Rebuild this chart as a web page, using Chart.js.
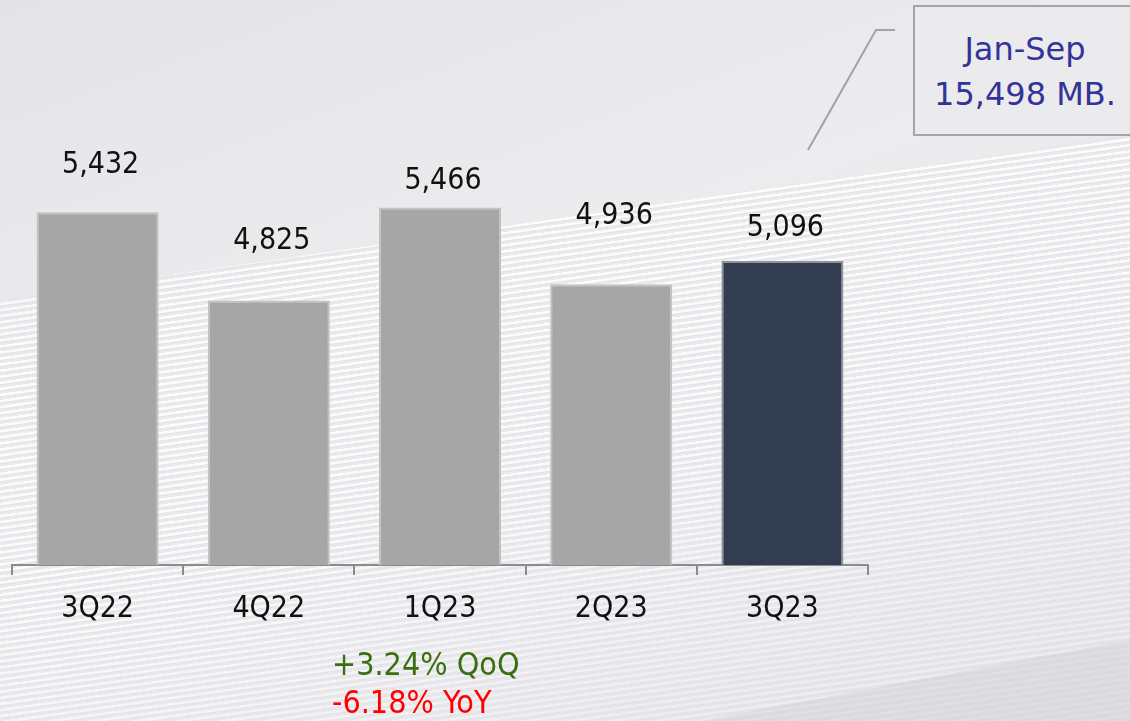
<!DOCTYPE html>
<html>
<head>
<meta charset="utf-8">
<script src="https://cdn.jsdelivr.net/npm/chart.js@4.4.0/dist/chart.umd.min.js"></script>
<style>
  html, body { margin: 0; padding: 0; }
  body { width: 1130px; height: 721px; overflow: hidden; position: relative;
    font-family: "DejaVu Sans Condensed", "Liberation Sans", sans-serif;
    background: linear-gradient(160deg, #e4e4e8 0%, #ececef 40%, #e9e9ed 70%, #e2e2e6 100%); }
  #stripes { position: absolute; left: 0; top: 0; width: 1130px; height: 721px;
    background: repeating-linear-gradient(172deg, rgba(255,255,255,0.85) 0px, rgba(255,255,255,0.85) 2px, rgba(214,214,220,0.35) 3px, rgba(255,255,255,0) 5px, rgba(255,255,255,0) 6px);
    clip-path: polygon(0 300px, 1130px 135px, 1130px 721px, 0 721px);
    -webkit-mask-image: linear-gradient(165deg, rgba(0,0,0,0) 0%, rgba(0,0,0,1) 35%, rgba(0,0,0,0.9) 60%, rgba(0,0,0,0.4) 85%);
    mask-image: linear-gradient(165deg, rgba(0,0,0,0) 0%, rgba(0,0,0,1) 35%, rgba(0,0,0,0.9) 60%, rgba(0,0,0,0.4) 85%); }
  #corner { position: absolute; left: 0; top: 0; width: 1130px; height: 721px;
    background: rgba(200,200,206,0.35);
    clip-path: polygon(700px 721px, 1130px 640px, 1130px 721px); }
  canvas { position: absolute; left: 0; top: 0; }
  .note { position: absolute; font-size: 32px; white-space: nowrap; line-height: 38px; }
  #box { position: absolute; left: 913px; top: 5px; width: 240px; height: 127px;
    border: 2px solid #a4a4a6; background: #ebebed; box-sizing: content-box; }
  .boxtxt { position: absolute; left: 915px; width: 220px; text-align: center; font-family: "DejaVu Sans", sans-serif; font-size: 32px; color: #333399; line-height: 40px; }
  svg { position: absolute; left: 0; top: 0; }
</style>
</head>
<body>
<div id="stripes"></div>
<div id="corner"></div>
<canvas id="c" width="1130" height="721"></canvas>
<svg width="1130" height="721"><polyline points="808,150 876,30 895,30" fill="none" stroke="#a2a2a4" stroke-width="2"/></svg>
<div id="box"></div>
<div class="boxtxt" id="t1" style="top:29px;"></div>
<div class="boxtxt" id="t2" style="top:74px;"></div>
<div class="note" id="qoq" style="left:332px; top:645px; color:#3b6e0e;"></div>
<div class="note" id="yoy" style="left:332px; top:683px; color:#ff0000;"></div>
<script>
const categories = ["3Q22", "4Q22", "1Q23", "2Q23", "3Q23"];
const revenue = [5432, 4825, 5466, 4936, 5096];
const highlightIndex = 4;
const boxLines = ["Jan-Sep", "15,498 MB."];
const changeNotes = ["+3.24% QoQ", "-6.18% YoY"];

document.getElementById('t1').textContent = boxLines[0];
document.getElementById('t2').textContent = boxLines[1];
document.getElementById('qoq').textContent = changeNotes[0];
document.getElementById('yoy').textContent = changeNotes[1];

const FONT = '"DejaVu Sans Condensed", "Liberation Sans", sans-serif';
const labelLift = [47, 59, 26, 68, 33];

const valueLabels = {
  id: 'valueLabels',
  afterDatasetsDraw(chart) {
    const ctx = chart.ctx;
    const meta = chart.getDatasetMeta(0);
    ctx.save();
    ctx.font = '30px ' + FONT;
    ctx.fillStyle = '#111111';
    ctx.textAlign = 'center';
    ctx.textBaseline = 'middle';
    meta.data.forEach((el, i) => {
      const v = chart.data.datasets[0].data[i];
      ctx.fillText(v.toLocaleString('en-US'), el.x + 3, el.y - labelLift[i]);
    });
    ctx.restore();
  }
};

new Chart(document.getElementById('c'), {
  type: 'bar',
  data: {
    labels: categories,
    datasets: [{
      data: revenue,
      backgroundColor: categories.map((c, i) => i === highlightIndex ? '#333d50' : '#a6a6a6'),
      borderColor: categories.map((c, i) => i === highlightIndex ? '#8e939c' : '#c2c2c2'),
      borderWidth: 2,
      borderSkipped: 'bottom',
      categoryPercentage: 1.0,
      barPercentage: 0.713
    }]
  },
  options: {
    responsive: false,
    animation: false,
    layout: { padding: { left: 12, right: 262, top: 130, bottom: 0 } },
    plugins: { legend: { display: false }, tooltip: { enabled: false } },
    scales: {
      y: { display: false, min: 3000, max: 6000 },
      x: {
        grid: { display: true, drawOnChartArea: false, drawTicks: true, tickLength: 10, color: '#8c8c8c', lineWidth: 2, offset: true },
        border: { display: true, color: '#8c8c8c', width: 2 },
        ticks: { color: '#111111', font: { size: 30, family: FONT }, padding: 16 },
        afterFit(scale) { scale.height = 156; }
      }
    }
  },
  plugins: [valueLabels]
});
</script>
</body>
</html>
